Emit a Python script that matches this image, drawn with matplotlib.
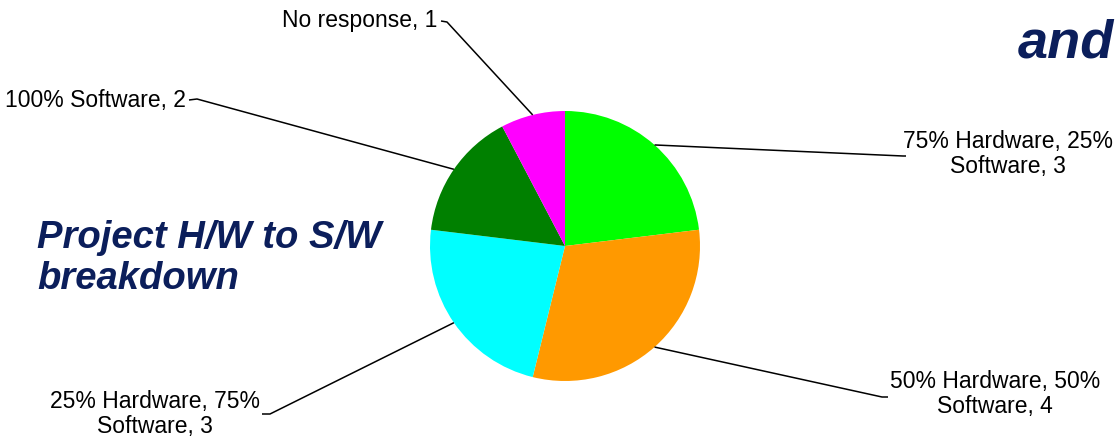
import numpy as np
import matplotlib
matplotlib.use("Agg")
import matplotlib.pyplot as plt

# Data
categories = ["75% Hardware, 25%\nSoftware", "50% Hardware, 50%\nSoftware",
              "25% Hardware, 75%\nSoftware", "100% Software", "No response"]
values = [3, 4, 3, 2, 1]
colors = ["#00FF00", "#FF9900", "#00FFFF", "#008000", "#FF00FF"]

W, H = 1115, 438
fig = plt.figure(figsize=(W / 100, H / 100), dpi=100)
ax = fig.add_axes([0, 0, 1, 1])

cx, cy, r = 565, H - 246, 135
wedges, _ = ax.pie(values, colors=colors, startangle=90, counterclock=False,
                   center=(cx, cy), radius=r, frame=True,
                   wedgeprops=dict(linewidth=0))
ax.set_xlim(0, W)
ax.set_ylim(0, H)
ax.set_aspect("equal")
ax.axis("off")

font = "Liberation Sans"
fs = 16.5
# label layout: (text x, text y, ha, elbow point, tick end)
layout = [
    (1008, H - 154, "center", (903, H - 156), (906, H - 156)),
    (995, H - 394, "center", (882, H - 397), (888, H - 397)),
    (155, H - 414, "center", (270, H - 414), (262, H - 414)),
    (186, H - 100, "right", (197, H - 99), (189, H - 100)),
    (437, H - 21, "right", (447, H - 22), (441, H - 21)),
]
for w, cat, v, (tx, ty, ha, elbow, tick) in zip(wedges, categories, values, layout):
    ang = np.deg2rad((w.theta1 + w.theta2) / 2)
    px, py = cx + r * np.cos(ang), cy + r * np.sin(ang)
    ax.plot([px, elbow[0], tick[0]], [py, elbow[1], tick[1]], color="black",
            lw=1.1, solid_capstyle="butt")
    ax.text(tx, ty, f"{cat}, {v}", ha=ha, va="center", fontsize=fs,
            family=font, linespacing=1.15, color="black")

navy = "#0B1E5B"
ax.text(37, H - 289, "Project H/W to S/W\nbreakdown", ha="left", va="baseline",
        fontsize=27.5, family=font, weight="bold", style="italic", color=navy,
        linespacing=1.18, multialignment="left")
ax.text(1018, H - 57, "and", ha="left", va="baseline", fontsize=39,
        family=font, weight="bold", style="italic", color=navy)

fig.savefig("out.png", dpi=100)
